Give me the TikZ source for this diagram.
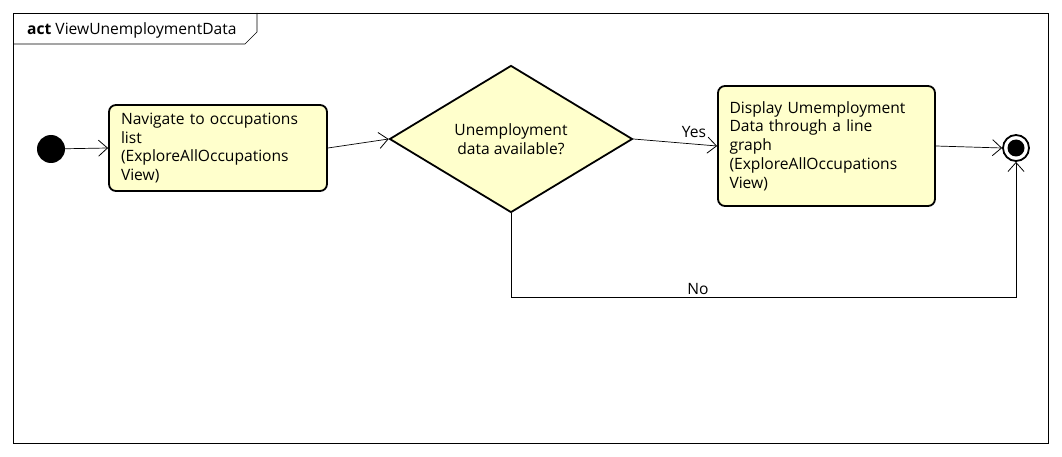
\documentclass[tikz,border=0pt]{standalone}
\usepackage{fontspec}
\setmainfont{Open Sans}
\usetikzlibrary{shapes.geometric,arrows.meta}
\definecolor{actfill}{RGB}{255,255,204}
\tikzset{
  action/.style={draw, line width=1.8pt, rounded corners=7pt, fill=actfill, inner sep=0pt, align=left, font=\fontsize{15.6}{18.8}\selectfont},
  decision/.style={draw, line width=1.8pt, diamond, fill=actfill, inner sep=0pt, align=center, font=\fontsize{15.6}{18.8}\selectfont},
  flow/.style={line width=0.7pt, -{Straight Barb[length=9pt,width=16pt,line width=0.8pt]}},
  lbl/.style={font=\fontsize{15.6}{18.8}\selectfont, inner sep=0pt},
  frameline/.style={line width=0.7pt}
}
\begin{document}
\begin{tikzpicture}[x=1pt,y=-1pt]
\useasboundingbox (0,0) rectangle (1062,457);
% frame
\draw[frameline] (13,13) rectangle (1048,443);
\draw[frameline] (13,44) -- (245,44) -- (257,32) -- (257,13);
\node[lbl, anchor=base west] (title) at (27,35) {\textbf{act} ViewUnemploymentData};
% nodes
\node[circle, fill=black, minimum size=28pt, inner sep=0pt] (init) at (51,149) {};
\node[action, minimum width=218pt, minimum height=86pt, text width=194pt] (a1) at (218,148)
  {Navigate to occupations\\list\\(ExploreAllOccupations\\View)};
\node[decision, minimum width=243pt, minimum height=147pt] (dec) at (511,139)
  {Unemployment\\data available?};
\node[action, minimum width=217pt, minimum height=120pt, text width=194pt] (a2) at (826.5,146)
  {Display Umemployment\\Data through a line\\graph\\(ExploreAllOccupations\\View)};
\node[circle, draw, line width=1.8pt, minimum size=26pt, inner sep=0pt, fill=white] (final) at (1016,148) {};
\node[circle, fill=black, minimum size=17pt, inner sep=0pt] (finalin) at (final.center) {};
\coordinate (nc) at (1016,297);
% connectors
\draw[flow] (init) -- (a1.west);
\draw[flow] (a1.east) -- (dec.west);
\draw[flow] (dec.east) -- (a2.west);
\draw[flow] (a2.east) -- (final.west);
\draw[flow] (dec.south) -- (dec.south |- nc) -- (nc) -- (final.south);
\node[lbl, anchor=base] (yes) at (694,138) {Yes};
\node[lbl, anchor=base] (no) at (698,294) {No};
\end{tikzpicture}
\end{document}
